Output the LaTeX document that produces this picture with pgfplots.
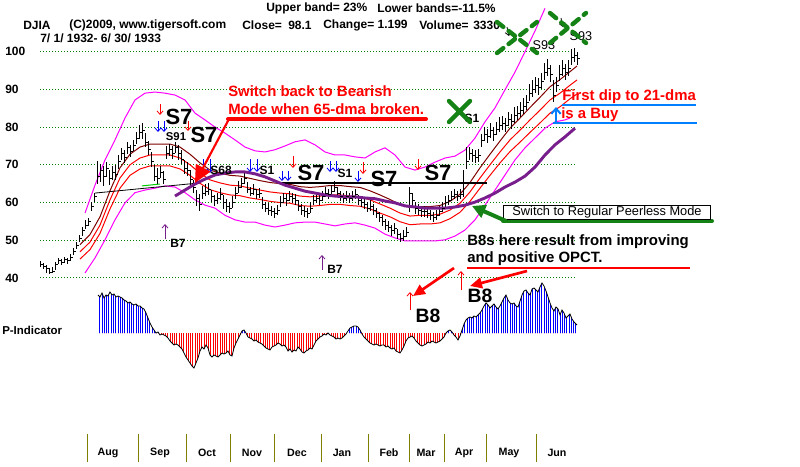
\documentclass[border=0pt]{standalone}
\usepackage{pgfplots}
\pgfplotsset{compat=1.18}
\usepackage{pgfplotstable}
\usepackage{fontspec}
\setmainfont{Liberation Sans}
\usetikzlibrary{arrows.meta,patterns.meta}

\definecolor{gridc}{RGB}{0,128,0}
\definecolor{mag}{RGB}{255,0,255}
\definecolor{dred}{RGB}{128,0,0}
\definecolor{purp}{RGB}{120,30,140}
\definecolor{grn}{RGB}{20,130,20}
\definecolor{dblue}{RGB}{0,128,255}
\definecolor{oliv}{RGB}{128,128,0}

\pgfdeclareplotmark{rtick}{\pgfpathmoveto{\pgfpointorigin}\pgfpathlineto{\pgfpoint{\pgfplotmarksize}{0pt}}\pgfusepathqstroke}

% daily bars: x = date position, high, low, close
\pgfplotstableread[row sep=\\]{
x h l c\\
40 44.6 42.8 43.5\\ 43 44.0 42.3 43.0\\ 46 43.4 41.2 42.5\\ 49 42.6 41.0 41.5\\ 52 42.8 41.2 41.8\\
55 44.2 42.0 43.5\\ 58 45.2 43.6 44.5\\ 61 45.0 43.4 44.0\\ 64 45.6 44.0 44.8\\ 67 45.4 43.8 44.5\\
70 46.4 44.6 45.5\\ 73 47.8 46.0 47.0\\ 76 49.4 47.6 48.5\\ 79 51.4 49.4 50.5\\ 82 53.6 51.2 52.5\\
85 55.4 53.0 54.0\\ 88 56.0 53.8 55.0\\ 91 60.2 57.8 59.0\\ 94 62.6 60.2 61.5\\ 97 71.0 64.8 67.0\\
100 70.2 65.5 68.5\\ 103 69.6 64.5 67.0\\ 106 70.8 66.8 69.0\\ 109 68.6 64.6 66.5\\ 112 69.8 66.0 68.0\\
115 70.0 66.0 67.5\\ 118 72.6 69.0 71.0\\ 121 74.4 71.2 73.0\\ 124 74.0 70.6 72.0\\ 127 76.0 72.8 74.5\\
130 75.2 72.0 73.5\\ 133 76.6 73.6 75.0\\ 136 78.8 75.4 77.0\\ 139 80.6 76.8 78.5\\ 142 81.2 76.8 79.0\\
145 78.4 74.8 76.0\\ 148 76.2 72.6 74.0\\ 151 73.4 69.4 71.0\\ 154 70.0 65.6 67.0\\ 157 69.2 64.8 66.5\\
160 69.6 66.4 68.0\\ 163 68.4 64.8 66.0\\ 166 75.0 71.6 73.0\\ 169 75.6 72.4 74.0\\ 172 75.0 71.6 73.0\\
175 76.0 73.0 74.5\\ 178 75.2 71.2 73.0\\ 181 73.8 70.2 71.5\\ 184 71.4 67.6 69.0\\ 187 70.8 67.0 68.5\\
190 68.6 64.6 66.0\\ 193 66.0 62.4 64.0\\ 196 63.4 59.0 61.0\\ 199 62.2 57.8 59.5\\ 202 64.4 60.8 62.5\\
205 64.8 61.6 63.0\\ 208 65.2 62.0 63.5\\ 211 63.2 60.0 61.5\\ 214 62.0 59.2 60.5\\ 217 62.6 59.6 61.0\\
220 63.8 60.6 62.0\\ 223 62.0 58.4 60.0\\ 226 60.8 57.6 59.0\\ 229 60.2 57.2 58.5\\ 232 61.6 58.6 60.0\\
235 64.0 61.0 62.5\\ 238 65.6 62.6 64.0\\ 241 66.6 63.8 65.0\\ 244 68.0 64.8 66.5\\ 247 65.4 62.4 63.5\\
250 64.2 61.6 62.5\\ 253 65.0 62.0 63.5\\ 256 63.6 60.8 62.0\\ 259 63.8 61.2 62.5\\ 262 61.4 58.4 59.5\\
265 60.2 57.4 58.5\\ 268 59.8 56.8 58.0\\ 271 59.2 56.4 57.5\\ 274 58.6 56.0 57.0\\ 277 59.4 56.8 58.0\\
280 61.6 58.8 60.0\\ 283 62.6 59.8 61.0\\ 286 62.2 59.2 60.5\\ 289 63.0 60.4 61.5\\ 292 62.6 59.8 61.0\\
295 62.2 59.4 60.5\\ 298 60.6 57.8 59.0\\ 301 59.6 56.8 58.0\\ 304 59.0 56.2 57.5\\ 307 58.6 55.8 57.0\\
310 60.0 57.2 58.5\\ 313 62.0 59.4 60.5\\ 316 62.6 59.8 61.0\\ 319 62.0 59.4 60.5\\ 322 63.0 60.4 61.5\\
325 64.0 61.4 62.5\\ 328 63.6 60.8 62.0\\ 331 64.6 62.0 63.0\\ 334 65.8 62.8 64.0\\ 337 64.2 61.4 62.5\\
340 63.0 60.4 61.5\\ 343 62.6 59.8 61.0\\ 346 63.0 60.4 61.5\\ 349 62.4 59.8 61.0\\ 352 63.0 60.4 61.5\\
355 63.6 60.8 62.0\\ 358 62.0 59.4 60.5\\ 361 61.6 58.8 60.0\\ 364 61.0 58.4 59.5\\ 367 60.0 57.4 58.5\\
370 60.6 57.8 59.0\\ 373 59.6 56.8 58.0\\ 376 58.6 55.8 57.0\\ 379 57.6 54.8 56.0\\ 382 56.6 53.8 55.0\\
385 55.6 52.6 54.0\\ 388 55.0 52.2 53.5\\ 391 54.0 51.2 52.5\\ 394 54.6 51.6 53.0\\ 397 53.0 50.4 51.5\\
400 52.0 49.6 50.5\\ 403 52.6 49.8 51.0\\ 406 53.6 50.8 52.0\\ 409 64.2 57.4 62.5\\ 412 62.4 58.8 60.5\\
415 60.2 57.0 58.5\\ 418 59.6 56.6 58.0\\ 421 59.0 56.2 57.5\\ 424 59.2 56.2 57.5\\ 427 58.6 55.8 57.0\\
430 58.0 55.4 56.5\\ 433 57.6 54.8 56.0\\ 436 58.0 55.4 56.5\\ 439 59.0 56.4 57.5\\ 442 60.0 57.4 58.5\\
445 61.6 58.8 60.0\\ 448 62.0 59.4 60.5\\ 451 63.0 60.4 61.5\\ 454 63.6 60.8 62.0\\ 457 63.0 60.4 61.5\\
460 63.6 60.8 62.0\\ 463 68.6 61.4 65.0\\ 466 74.6 68.8 71.0\\ 469 74.8 71.2 73.0\\ 472 74.2 70.8 72.5\\
475 73.8 70.4 72.0\\ 478 74.2 70.8 72.5\\ 481 78.2 74.8 76.5\\ 484 80.0 76.4 78.0\\ 487 79.4 75.8 77.5\\
490 81.0 77.2 79.0\\ 493 80.0 76.4 78.0\\ 496 81.4 77.8 79.5\\ 499 82.6 78.8 80.5\\ 502 83.0 79.2 81.0\\
505 82.4 78.8 80.5\\ 508 84.0 80.2 82.0\\ 511 83.4 79.6 81.5\\ 514 85.2 81.2 83.0\\ 517 85.6 81.8 83.5\\
520 86.6 82.8 84.5\\ 523 87.6 83.6 85.5\\ 526 88.6 84.6 86.5\\ 529 91.4 87.0 89.0\\ 532 92.4 88.0 90.0\\
535 93.4 89.0 91.0\\ 538 93.0 88.6 90.5\\ 541 94.4 90.0 92.0\\ 544 97.0 92.6 94.5\\ 547 98.0 93.6 95.5\\
550 96.6 92.0 94.0\\ 553 92.6 86.6 88.5\\ 556 93.4 89.2 91.0\\ 559 96.4 92.2 94.0\\ 562 97.8 93.6 95.5\\
565 96.8 92.6 94.5\\ 568 97.8 93.6 95.5\\ 571 100.6 96.6 98.5\\ 574 101.0 97.2 99.0\\ 577 100.0 96.4 98.1\\
}\pricedata

% 21-dma (c) with its upper (u) and lower (lo) bands
\pgfplotstableread[row sep=\\]{
x c u lo\\
80 46.9 48.8 45.0\\ 90 49.5 51.5 47.5\\ 100 54.0 56.2 51.8\\ 110 60.7 63.1 58.3\\ 120 66.5 69.2 63.8\\
130 70.0 72.8 67.2\\ 140 71.8 74.7 68.9\\ 150 72.6 75.5 69.7\\ 160 72.6 75.5 69.7\\ 170 72.6 75.5 69.7\\
180 71.8 74.7 68.9\\ 190 70.0 72.8 67.2\\ 200 67.8 70.5 65.1\\ 210 66.0 68.6 63.4\\ 220 65.2 67.8 62.6\\
230 64.6 67.2 62.0\\ 240 64.4 67.0 61.8\\ 250 63.8 66.4 61.2\\ 260 63.3 65.8 60.8\\ 270 62.8 65.3 60.3\\
280 62.5 65.0 60.0\\ 290 62.3 64.8 59.8\\ 300 61.7 64.2 59.2\\ 310 61.5 64.0 59.0\\ 320 61.7 64.2 59.2\\
330 62.0 64.5 59.5\\ 340 62.0 64.5 59.5\\ 350 61.7 64.2 59.2\\ 360 61.5 64.0 59.0\\ 370 60.7 63.1 58.3\\
380 59.6 62.0 57.2\\ 390 58.5 60.8 56.2\\ 400 57.2 59.5 54.9\\ 410 56.4 58.7 54.1\\ 420 56.6 58.9 54.3\\
430 56.6 58.9 54.3\\ 440 56.9 59.2 54.6\\ 450 58.0 60.3 55.7\\ 460 59.8 62.2 57.4\\ 470 62.8 65.3 60.3\\
480 66.5 69.2 63.8\\ 490 70.0 72.8 67.2\\ 500 73.4 76.3 70.5\\ 510 76.6 79.7 73.5\\ 520 79.2 82.4 76.0\\
530 81.9 85.2 78.6\\ 540 84.5 87.9 81.1\\ 550 87.2 90.7 83.7\\ 560 89.0 92.6 85.4\\ 570 91.1 94.7 87.5\\
577 92.5 96.2 88.8\\
}\madata

\pgfplotstableread[row sep=\\]{
x v\\
85 57.2\\ 95 64.6\\ 105 71.3\\ 115 76.6\\ 125 82.4\\ 135 87.2\\ 145 89.0\\ 155 89.3\\ 165 89.0\\ 175 88.5\\
185 87.2\\ 195 83.7\\ 205 81.9\\ 215 80.0\\ 225 78.4\\ 235 76.6\\ 245 74.7\\ 255 73.7\\ 265 73.4\\ 275 74.0\\
285 75.0\\ 295 76.1\\ 305 76.6\\ 315 75.3\\ 325 73.4\\ 335 72.6\\ 345 72.6\\ 355 72.1\\ 365 71.8\\ 375 73.4\\
385 74.5\\ 395 72.6\\ 405 69.4\\ 415 68.6\\ 425 69.4\\ 435 70.7\\ 445 71.8\\ 455 72.3\\ 465 73.9\\ 475 77.1\\
485 81.4\\ 495 85.1\\ 505 89.9\\ 515 94.6\\ 525 100.0\\ 535 105.5\\ 545 111.5\\
}\bandup

\pgfplotstableread[row sep=\\]{
x v\\
85 41.3\\ 95 45.3\\ 105 50.1\\ 115 55.4\\ 125 59.9\\ 135 62.6\\ 145 63.3\\ 155 63.8\\ 165 64.4\\ 175 64.1\\
185 62.6\\ 195 60.7\\ 205 59.3\\ 215 58.5\\ 225 56.6\\ 235 55.4\\ 245 54.8\\ 255 54.8\\ 265 54.0\\ 275 53.5\\
285 54.0\\ 295 54.6\\ 305 54.8\\ 315 54.8\\ 325 54.3\\ 335 53.8\\ 345 54.3\\ 355 54.6\\ 365 54.0\\ 375 53.2\\
385 51.6\\ 395 50.6\\ 405 49.8\\ 415 49.8\\ 425 49.8\\ 435 49.8\\ 445 50.1\\ 455 51.1\\ 465 52.7\\ 475 55.4\\
485 59.3\\ 495 63.3\\ 505 67.3\\ 515 71.3\\ 525 74.5\\ 535 77.1\\ 545 79.7\\ 555 81.4\\ 565 81.9\\ 570 82.4\\
}\banddn

% 65-dma
\pgfplotstableread[row sep=\\]{
x v\\
175 61.7\\ 185 63.3\\ 195 64.9\\ 205 66.2\\ 215 67.3\\ 225 67.8\\ 235 68.1\\ 245 68.1\\ 255 67.6\\ 265 66.8\\
275 65.7\\ 285 64.6\\ 295 63.8\\ 305 63.0\\ 315 62.5\\ 325 62.0\\ 335 61.7\\ 345 61.5\\ 355 61.5\\ 365 61.2\\
375 61.0\\ 385 60.4\\ 395 59.9\\ 405 59.1\\ 415 58.8\\ 425 58.5\\ 435 58.5\\ 445 58.5\\ 455 58.8\\ 465 59.3\\
475 60.1\\ 485 61.2\\ 495 62.5\\ 505 64.1\\ 515 65.4\\ 525 67.0\\ 535 69.4\\ 545 72.6\\ 555 75.3\\ 565 77.4\\
575 79.7\\
}\mafive

% P-Indicator
\pgfplotstableread[row sep=\\]{
x v\\
98 38\\ 100 36\\ 102 40\\ 104 35\\ 106 38\\ 108 37\\ 110 41\\ 112 38\\ 114 39\\ 116 36\\ 118 37\\ 120 36\\
122 35\\ 124 33\\ 126 32\\ 128 30\\ 130 31\\ 132 29\\ 134 28\\ 136 29\\ 138 27\\ 140 27\\ 142 25\\ 144 24\\
146 20\\ 148 15\\ 150 10\\ 152 6\\ 154 3\\ 156 0\\ 158 1\\ 160 -2\\ 162 -1\\ 164 -2\\ 166 -3\\ 168 -5\\
170 -8\\ 172 -10\\ 174 -12\\ 176 -11\\ 178 -12\\ 180 -14\\ 182 -16\\ 184 -20\\ 186 -24\\ 188 -27\\ 190 -30\\
192 -33\\ 194 -35\\ 196 -30\\ 198 -25\\ 200 -18\\ 202 -14\\ 204 -16\\ 206 -12\\ 208 -15\\ 210 -22\\ 212 -24\\
214 -22\\ 216 -23\\ 218 -24\\ 220 -22\\ 222 -20\\ 224 -21\\ 226 -20\\ 228 -18\\ 230 -22\\ 232 -23\\ 234 -15\\
236 -10\\ 238 -6\\ 240 -2\\ 242 2\\ 244 3\\ 246 0\\ 248 -4\\ 250 -5\\ 252 -6\\ 254 -8\\ 256 -7\\ 258 -9\\
260 -10\\ 262 -11\\ 264 -13\\ 266 -15\\ 268 -16\\ 270 -17\\ 272 -14\\ 274 -13\\ 276 -12\\ 278 -10\\ 280 -11\\
282 -13\\ 284 -12\\ 286 -14\\ 288 -18\\ 290 -16\\ 292 -19\\ 294 -17\\ 296 -18\\ 298 -14\\ 300 -16\\ 302 -19\\
304 -20\\ 306 -18\\ 308 -17\\ 310 -15\\ 312 -16\\ 314 -12\\ 316 -8\\ 318 -6\\ 320 -4\\ 322 -3\\ 324 -1\\
326 -2\\ 328 0\\ 330 -2\\ 332 -3\\ 334 -4\\ 336 -6\\ 338 -5\\ 340 -6\\ 342 -5\\ 344 -3\\ 346 -1\\ 348 2\\
350 5\\ 352 6\\ 354 7\\ 356 7\\ 358 6\\ 360 3\\ 362 -1\\ 364 -4\\ 366 -6\\ 368 -8\\ 370 -10\\ 372 -11\\
374 -12\\ 376 -11\\ 378 -12\\ 380 -13\\ 382 -12\\ 384 -12\\ 386 -14\\ 388 -13\\ 390 -15\\ 392 -16\\ 394 -15\\
396 -18\\ 398 -19\\ 400 -20\\ 402 -17\\ 404 -13\\ 406 -8\\ 408 -5\\ 410 -4\\ 412 -3\\ 414 -5\\ 416 -8\\
418 -10\\ 420 -12\\ 422 -13\\ 424 -12\\ 426 -11\\ 428 -9\\ 430 -10\\ 432 -8\\ 434 -9\\ 436 -10\\ 438 -9\\
440 -8\\ 442 -6\\ 444 -4\\ 446 0\\ 448 2\\ 450 3\\ 452 1\\ 454 -2\\ 456 -4\\ 458 -7\\ 460 -3\\ 462 3\\
464 9\\ 466 13\\ 468 15\\ 470 16\\ 472 15\\ 474 17\\ 476 16\\ 478 18\\ 480 20\\ 482 23\\ 484 27\\ 486 30\\
488 28\\ 490 25\\ 492 27\\ 494 29\\ 496 26\\ 498 24\\ 500 27\\ 502 31\\ 504 35\\ 506 38\\ 508 33\\ 510 30\\
512 29\\ 514 30\\ 516 27\\ 518 26\\ 520 32\\ 522 38\\ 524 42\\ 526 43\\ 528 40\\ 530 38\\ 532 44\\ 534 45\\
536 43\\ 538 41\\ 540 46\\ 542 50\\ 544 47\\ 546 42\\ 548 36\\ 550 30\\ 552 25\\ 554 22\\ 556 26\\ 558 24\\
560 18\\ 562 23\\ 564 20\\ 566 15\\ 568 17\\ 570 19\\ 572 14\\ 574 11\\ 576 9\\ 577 8\\
}\pind

\begin{document}
\begin{tikzpicture}
\pgfplotsset{base/.style={scale only axis, width=600pt, height=350.25pt,
  xmin=0, xmax=800, hide axis, clip=false, at={(0,0)}, anchor=north west}}
\tikzset{
  hdr/.style={anchor=west, inner sep=0pt, font=\bfseries\fontsize{9}{10}\selectfont},
  big/.style={inner sep=0pt, font=\bfseries\fontsize{16.5}{17}\selectfont},
  sml/.style={inner sep=0pt, font=\bfseries\fontsize{9}{10}\selectfont},
  ann/.style={anchor=west, inner sep=0pt, font=\bfseries\fontsize{11.2}{12}\selectfont},
  sig/.style={line width=0.6pt, -{Straight Barb[length=2.6pt,width=4.5pt]}},
  mon/.style={inner sep=0pt, font=\bfseries\fontsize{8}{9}\selectfont},
}

% ---------- price panel ----------
\begin{axis}[base, ymin=-10.16, ymax=113.71]
\fill[white] (axis cs:0,-10.16) rectangle (axis cs:800,113.71);
\pgfplotsinvokeforeach{40,50,60,70,80,90,100}{
  \draw[gridc, line width=0.75pt, dash pattern=on 0.75pt off 1.5pt] (axis cs:40,#1) -- (axis cs:575,#1);
  \node[anchor=west, inner sep=0pt, font=\bfseries\fontsize{9}{10}\selectfont] at (axis cs:5,#1) {#1};
}
\addplot[mag, line width=0.75pt] table[x=x,y=v] {\bandup};
\addplot[mag, line width=0.75pt] table[x=x,y=v] {\banddn};
\addplot[dred, line width=0.75pt] table[x=x,y=u] {\madata};
\addplot[red, line width=0.75pt] table[x=x,y=c] {\madata};
\addplot[red, line width=0.75pt] table[x=x,y=lo] {\madata};
\addplot[black, line width=0.6pt] coordinates {(95,62.5) (200,65.2)};
\addplot[green!80!black, line width=0.75pt] coordinates {(142,64.4) (160,64.9)};
\addplot[black, line width=0.9pt] coordinates {(278,65.15) (487,65.15)};
\addplot[black, only marks, mark=rtick, mark size=2pt, mark options={line width=0.7pt},
  error bars/.cd, y dir=both, y explicit, error mark=none,
  error bar style={line width=0.7pt, black}]
  table[x=x, y=c, y error plus expr=\thisrow{h}-\thisrow{c}, y error minus expr=\thisrow{c}-\thisrow{l}] {\pricedata};
\addplot[purp, line width=2.2pt] table[x=x,y=v] {\mafive};
\end{axis}

% ---------- P-Indicator, positive part ----------
\begin{axis}[scale only axis, width=600pt, height=249.75pt, xmin=0, xmax=800,
  ymin=0, ymax=333, hide axis, at={(0,0)}, anchor=north west]
\addplot[draw=none, pattern={Lines[angle=90,distance=1.7pt,line width=0.55pt]}, pattern color=blue]
  table[x=x,y=v] {\pind} \closedcycle;
\end{axis}
% ---------- P-Indicator, negative part ----------
\begin{axis}[scale only axis, width=600pt, height=100.5pt, xmin=0, xmax=800,
  ymin=-134, ymax=0, hide axis, at={(0,-249.75pt)}, anchor=north west]
\addplot[draw=none, pattern={Lines[angle=90,distance=1.7pt,line width=0.55pt]}, pattern color=red]
  table[x=x,y=v] {\pind} \closedcycle;
\end{axis}
\begin{axis}[base, ymin=-134, ymax=333]
\addplot[black, line width=0.6pt] table[x=x,y=v] {\pind};
\end{axis}

% ---------- annotations (pixel positions) ----------
\begin{axis}[base, ymin=0, ymax=467, y dir=reverse]
\path (axis cs:0,0) rectangle (axis cs:800,467);
% header
\node[hdr] at (axis cs:266,8) {Upper band= 23\%};
\node[hdr] at (axis cs:377,8) {Lower bands=-11.5\%};
\node[hdr] at (axis cs:23,25) {DJIA};
\node[hdr] at (axis cs:69,25) {(C)2009, www.tigersoft.com};
\node[hdr] at (axis cs:242,25) {Close=};
\node[hdr] at (axis cs:288,25) {98.1};
\node[hdr] at (axis cs:323,25) {Change= 1.199};
\node[hdr] at (axis cs:419,25) {Volume=};
\node[hdr] at (axis cs:473,25) {3330};
\node[hdr] at (axis cs:40,38) {7/ 1/ 1932- 6/ 30/ 1933};
% signal arrows
\draw[red, sig] (axis cs:160,104) -- (axis cs:160,115);
\draw[red, sig] (axis cs:188,121) -- (axis cs:188,131);
\draw[red, sig] (axis cs:293,156) -- (axis cs:293,168);
\draw[red, sig] (axis cs:363,162) -- (axis cs:363,174);
\draw[red, sig] (axis cs:418,159) -- (axis cs:418,170);
\draw[blue, sig] (axis cs:158,121) -- (axis cs:158,132);
\draw[blue, sig] (axis cs:164,121) -- (axis cs:164,132);
\draw[blue, sig] (axis cs:203,159) -- (axis cs:203,173);
\draw[blue, sig] (axis cs:210,159) -- (axis cs:210,173);
\draw[blue, sig] (axis cs:250,159) -- (axis cs:250,172);
\draw[blue, sig] (axis cs:257,159) -- (axis cs:257,172);
\draw[blue, sig] (axis cs:282,171) -- (axis cs:282,181);
\draw[blue, sig] (axis cs:288,171) -- (axis cs:288,181);
\draw[blue, sig] (axis cs:330,161) -- (axis cs:330,172);
\draw[blue, sig] (axis cs:336,161) -- (axis cs:336,172);
\draw[blue, sig] (axis cs:358,171) -- (axis cs:358,182);
\draw[purp, sig] (axis cs:165,239) -- (axis cs:165,224);
\draw[purp, sig] (axis cs:322,270) -- (axis cs:322,255);
\draw[red, sig] (axis cs:410,310) -- (axis cs:410,292);
\draw[red, sig] (axis cs:461,290) -- (axis cs:461,271);
\draw[black, sig] (axis cs:507,27) -- (axis cs:509,36);
\draw[black, sig] (axis cs:561,18) -- (axis cs:563,27);
% signal labels
\node[big] at (axis cs:179,117) {S7};
\node[big] at (axis cs:204,135) {S7};
\node[big] at (axis cs:311,173) {S7};
\node[big] at (axis cs:384,179) {S7};
\node[big] at (axis cs:438,173) {S7};
\node[inner sep=0pt, font=\bfseries\fontsize{8.5}{9}\selectfont] at (axis cs:176,137) {S91};
\node[sml] at (axis cs:221,170) {S68};
\node[sml] at (axis cs:267,170) {S1};
\node[sml] at (axis cs:345,173) {S1};
\node[sml] at (axis cs:472,118) {S1};
\node[inner sep=0pt, font=\fontsize{9.5}{10}\selectfont] at (axis cs:544,45) {S93};
\node[inner sep=0pt, font=\fontsize{9.5}{10}\selectfont] at (axis cs:581,36) {S93};
\node[sml] at (axis cs:178,243) {B7};
\node[sml] at (axis cs:335,269) {B7};
\node[inner sep=0pt, font=\bfseries\fontsize{14.5}{15}\selectfont] at (axis cs:428,316) {B8};
\node[inner sep=0pt, font=\bfseries\fontsize{14.5}{15}\selectfont] at (axis cs:480,296) {B8};
% green crosses
\draw[grn, line width=3.3pt, line cap=round] (axis cs:449,101) -- (axis cs:470,122) (axis cs:449,122) -- (axis cs:470,101);
\draw[grn, line width=3.3pt, line cap=round, dash pattern=on 6pt off 5pt]
  (axis cs:497,53) -- (axis cs:537,22) (axis cs:497,22) -- (axis cs:537,53);
\draw[grn, line width=3.3pt, line cap=round, dash pattern=on 6pt off 5pt]
  (axis cs:550,43) -- (axis cs:586,13) (axis cs:550,13) -- (axis cs:586,43);
% bearish-mode note
\node[ann, text=red] at (axis cs:228,91) {Switch back to Bearish};
\node[ann, text=red] at (axis cs:228,109) {Mode when 65-dma broken.};
\draw[red, line width=3pt, line cap=round] (axis cs:228,119) -- (axis cs:426,119);
\draw[red, line width=1.6pt, -{Triangle[length=13pt,width=12pt]}] (axis cs:229,119) -- (axis cs:195,183);
% first dip note
\node[ann, text=red] at (axis cs:562,97) {First dip to 21-dma};
\draw[dblue, line width=2.2pt] (axis cs:562,105) -- (axis cs:696,105);
\node[ann, text=red] at (axis cs:561,115) {is a Buy};
\draw[dblue, line width=2.2pt] (axis cs:553,123) -- (axis cs:697,123);
\draw[dblue, line width=1.5pt, -{Straight Barb[length=4pt,width=7pt]}] (axis cs:556,123) -- (axis cs:556,107);
% regular mode box
\draw[grn, line width=3pt, line cap=round] (axis cs:503,221) -- (axis cs:712,221);
\draw[black, line width=0.75pt, fill=white] (axis cs:503,205) rectangle (axis cs:710,219);
\node[inner sep=0pt, font=\fontsize{9.6}{10}\selectfont] at (axis cs:607,212) {Switch to Regular Peerless Mode};
\draw[grn, line width=3pt, -{Triangle[length=10pt,width=10pt]}] (axis cs:506,221) -- (axis cs:472,206);
% B8 note
\node[ann] at (axis cs:467,242) {B8s here result from improving};
\node[ann] at (axis cs:467,259) {and positive OPCT.};
\draw[red, line width=2.2pt] (axis cs:467,268) -- (axis cs:690,268);
\draw[red, line width=2pt, -{Triangle[length=9pt,width=8pt]}] (axis cs:454,268) -- (axis cs:413,296);
\draw[red, line width=2pt, -{Triangle[length=9pt,width=8pt]}] (axis cs:527,271) -- (axis cs:470,286);
% P-Indicator label
\node[anchor=west, inner sep=0pt, font=\bfseries\fontsize{8.6}{10}\selectfont] at (axis cs:2,330) {P-Indicator};
% months
\pgfplotsinvokeforeach{87,138,186,230,274,321,368,409,444,486,536}{
  \draw[oliv, line width=0.75pt] (axis cs:#1,434) -- (axis cs:#1,462);}
\node[mon] at (axis cs:108,453) {Aug};
\node[mon] at (axis cs:160,453) {Sep};
\node[mon] at (axis cs:207,453) {Oct};
\node[mon] at (axis cs:252,453) {Nov};
\node[mon] at (axis cs:297,453) {Dec};
\node[mon] at (axis cs:342,453) {Jan};
\node[mon] at (axis cs:389,453) {Feb};
\node[mon] at (axis cs:426,453) {Mar};
\node[mon] at (axis cs:464,453) {Apr};
\node[mon] at (axis cs:509,453) {May};
\node[mon] at (axis cs:557,453) {Jun};
\end{axis}
\end{tikzpicture}
\end{document}
